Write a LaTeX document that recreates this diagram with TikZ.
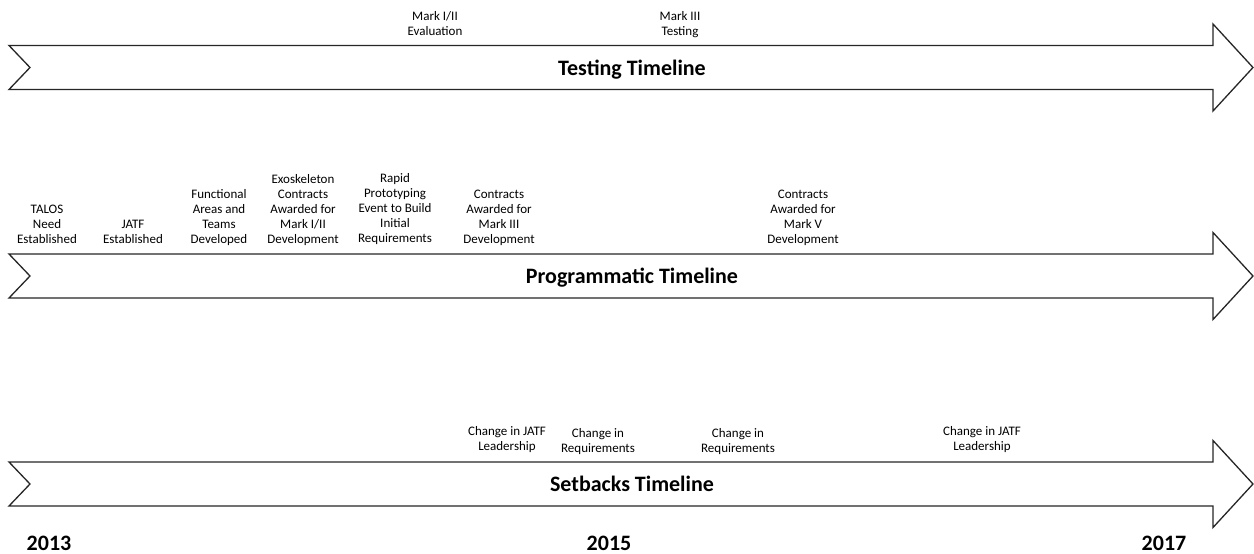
\documentclass[tikz,border=0pt]{standalone}
\usepackage{fontspec}
\setmainfont{Carlito}
\begin{document}
\begin{tikzpicture}[x=1pt,y=-1pt,
  arrowline/.style={draw=black!85,line width=1.3pt,line join=miter,fill=white},
  lbl/.style={font=\fontsize{13}{15}\selectfont,align=center,inner sep=0pt,anchor=south},
  ttl/.style={font=\fontsize{22}{26}\selectfont\bfseries,inner sep=0pt,anchor=base},
  yr/.style={font=\fontsize{22}{26}\selectfont\bfseries,inner sep=0pt,anchor=base},
  pics/tlarrow/.style={code={
    \draw[arrowline] (9,-22) -- (1213,-22) -- (1213,-43.5) -- (1253,0) -- (1213,43.5) -- (1213,22) -- (9,22) -- (30,0) -- cycle;}}]
\useasboundingbox (0,0) rectangle (1254,554);

% arrows
\pic (testarrow) at (0,67.5) {tlarrow};
\pic (progarrow) at (0,276) {tlarrow};
\pic (setarrow) at (0,484) {tlarrow};

% titles
\node[ttl] (ttest) at (632,75) {Testing Timeline};
\node[ttl] (tprog) at (632,283.5) {Programmatic Timeline};
\node[ttl] (tset) at (632,491.5) {Setbacks Timeline};

% testing labels (arrow top 45.5)
\node[lbl] (t1) at (435,40) {Mark I/II\\Evaluation\strut};
\node[lbl] (t2) at (680,40) {Mark III\\Testing\strut};

% programmatic labels (arrow top 254)
\node[lbl] (p1) at (47,248.5) {TALOS\\Need\\Established\strut};
\node[lbl] (p2) at (133,248.5) {JATF\\Established\strut};
\node[lbl] (p3) at (219,248.5) {Functional\\Areas and\\Teams\\Developed\strut};
\node[lbl] (p4) at (303,248.5) {Exoskeleton\\Contracts\\Awarded for\\Mark I/II\\Development\strut};
\node[lbl] (p5) at (395,247) {Rapid\\Prototyping\\Event to Build\\Initial\\Requirements\strut};
\node[lbl] (p6) at (499,248.5) {Contracts\\Awarded for\\Mark III\\Development\strut};
\node[lbl] (p7) at (803,248.5) {Contracts\\Awarded for\\Mark V\\Development\strut};

% setbacks labels (arrow top 462)
\node[lbl] (s1) at (507,455.5) {Change in JATF\\Leadership\strut};
\node[lbl] (s2) at (598,457) {Change in\\Requirements\strut};
\node[lbl] (s3) at (738,457) {Change in\\Requirements\strut};
\node[lbl] (s4) at (982,455.5) {Change in JATF\\Leadership\strut};

% years
\node[yr] (y1) at (49,550) {2013};
\node[yr] (y2) at (609,550) {2015};
\node[yr] (y3) at (1164,550) {2017};
\end{tikzpicture}
\end{document}
